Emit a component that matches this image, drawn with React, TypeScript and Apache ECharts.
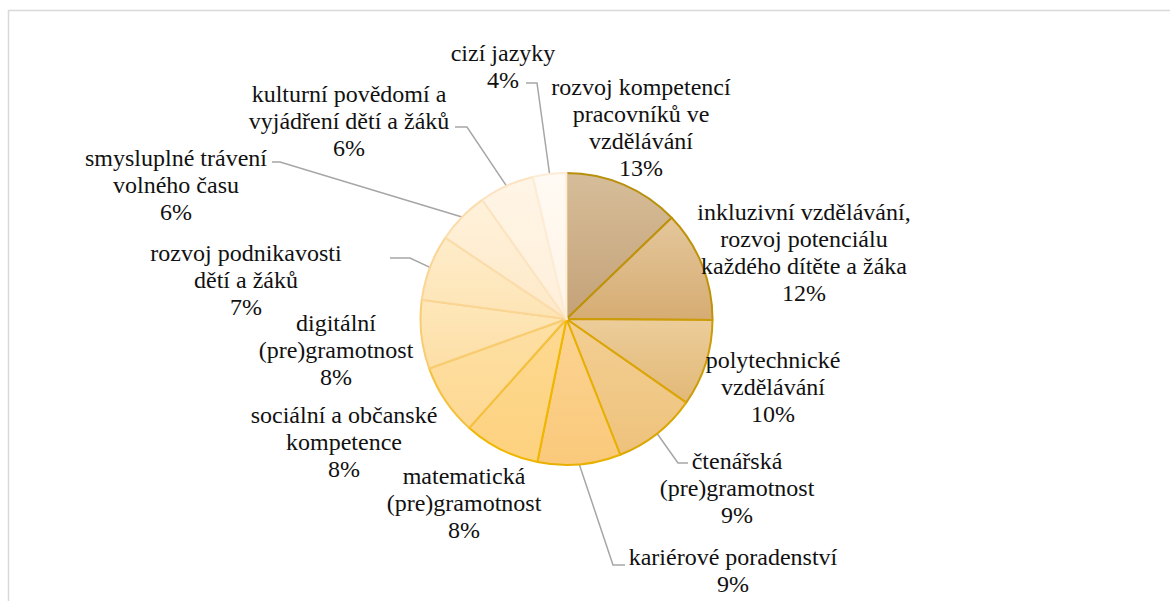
import React, { useEffect, useRef } from "react";
import * as echarts from "echarts";

// Categories (clockwise from 12 o'clock), with the line breaks used in the labels
const categories = [
  "rozvoj kompetencí\npracovníků ve\nvzdělávání",
  "inkluzivní vzdělávání,\nrozvoj potenciálu\nkaždého dítěte a žáka",
  "polytechnické\nvzdělávání",
  "čtenářská\n(pre)gramotnost",
  "kariérové poradenství",
  "matematická\n(pre)gramotnost",
  "sociální a občanské\nkompetence",
  "digitální\n(pre)gramotnost",
  "rozvoj podnikavosti\ndětí a žáků",
  "smysluplné trávení\nvolného času",
  "kulturní povědomí a\nvyjádření dětí a žáků",
  "cizí jazyky",
];

// Shares in percent (labels show rounded values)
const shares = [12.8, 12.3, 9.6, 9.3, 9.2, 8.4, 7.9, 7.6, 7.3, 5.8, 6.1, 3.7];

// Styles
const fillTop = [
  "#d6bd99", "#e4c79c", "#eccd9a", "#f3cf93", "#fbd392", "#fdd991",
  "#fee0a4", "#fee7ba", "#feecca", "#fff1da", "#fff5e6", "#fffaf3",
];
const fillBottom = [
  "#c4a278", "#d6ac72", "#e2b877", "#eec27c", "#fac97b", "#fdd27f",
  "#fdd892", "#fddfa6", "#fde4b4", "#fee9c8", "#feefd9", "#fff4e7",
];
const borderColors = [
  "#b8900c", "#bf920a", "#cc9c08", "#dba606", "#e8b000", "#f0b600",
  "#f4c040", "#f8cc72", "#fad595", "#fbdcab", "#fce4c2", "#fdecd6",
];

// Label layout (label block centre) and leader-line offsets relative to it
const labelCenters: [number, number][] = [
  [641, 127], [804, 252], [773, 387], [737, 488], [733, 570], [464, 503],
  [344, 442], [336, 350], [246, 280], [176, 185], [349, 121], [503, 66],
];
// [endDx, endDy, elbowDx] or null when no leader is drawn
const leaders: ([number, number, number] | null)[] = [
  null, null, null, [-49, -25, -10], [-108, -5, -12], null,
  null, null, [144, -22, 20], [96, -23, 8], [106, 6, 12], [23, 17, 11],
];

export default function App() {
  const ref = useRef<HTMLDivElement>(null);

  useEffect(() => {
    if (!ref.current) return;
    const chart = echarts.init(ref.current, undefined, { renderer: "svg" });

    const data = categories.map((name, i) => ({
      name,
      value: shares[i],
      itemStyle: {
        color: {
          type: "linear",
          x: 0,
          y: 0,
          x2: 0,
          y2: 1,
          colorStops: [
            { offset: 0, color: fillTop[i] },
            { offset: 1, color: fillBottom[i] },
          ],
        },
        borderColor: borderColors[i],
        borderWidth: 2,
      },
      labelLine: { show: leaders[i] !== null },
    }));

    chart.setOption({
      animation: false,
      graphic: [
        {
          type: "rect",
          shape: { x: 8.5, y: 10.5, width: 1200, height: 650 },
          style: { fill: "none", stroke: "#d9d9d9", lineWidth: 1.5 },
          silent: true,
        },
      ],
      series: [
        {
          type: "pie",
          center: [566.5, 319],
          radius: 146,
          startAngle: 90,
          clockwise: true,
          avoidLabelOverlap: false,
          data,
          label: {
            show: true,
            position: "outside",
            fontFamily: "Liberation Serif",
            fontSize: 24,
            lineHeight: 27,
            color: "#111111",
            align: "center",
            formatter: (p: any) => `${p.name}\n${Math.round(p.value)}%`,
          },
          labelLine: {
            show: true,
            length: 10,
            length2: 10,
            lineStyle: { color: "#a6a6a6", width: 1.5 },
          },
          labelLayout: (params: any) => {
            const i = params.dataIndex;
            const [cx, cy] = labelCenters[i];
            const res: any = { x: cx, y: cy, align: "center", verticalAlign: "middle" };
            const ld = leaders[i];
            if (ld && params.labelLinePoints) {
              const anchor = params.labelLinePoints[0];
              const end = [cx + ld[0], cy + ld[1]];
              const elbow = [end[0] + ld[2], end[1]];
              res.labelLinePoints = [anchor, elbow, end];
            }
            return res;
          },
        },
      ],
    });

    return () => chart.dispose();
  }, []);

  return (
    <div
      ref={ref}
      style={{ position: "absolute", left: 0, top: 0, width: 1170, height: 601 }}
    />
  );
}
